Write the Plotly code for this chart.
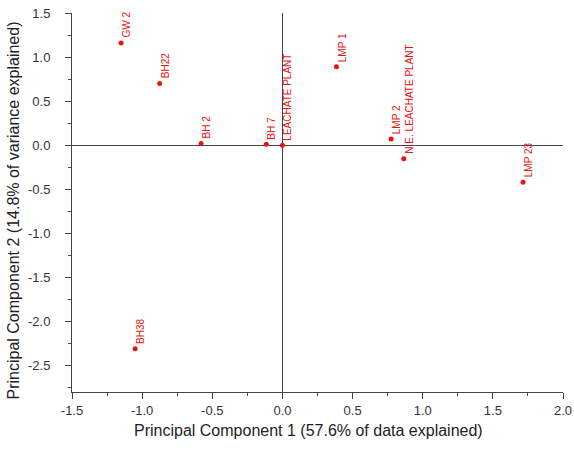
import plotly.graph_objects as go

sites = ["GW2", "BH22", "BH2", "BH7", "LEACHATE PLANT", "LMP1", "LMP 2",
         "N.E. LEACHATE PLANT", "LMP 23", "BH38"]
pc1 = [-1.15, -0.875, -0.58, -0.115, 0.0, 0.385, 0.775, 0.865, 1.715, -1.05]
pc2 = [1.16, 0.70, 0.02, 0.01, 0.0, 0.89, 0.07, -0.155, -0.42, -2.31]
label_text = ["GW 2", "BH22", "BH 2", "BH 7", "LEACHATE PLANT", "LMP 1", "LMP 2",
              "N.E. LEACHATE PLANT", "LMP 23", "BH38"]

x_ticks = [-1.5, -1.0, -0.5, 0.0, 0.5, 1.0, 1.5, 2.0]
x_ticktext = ["-1.5", "-1.0", "-0.5", "0.0", "0.5", "1.0", "1.5", "2.0"]
y_ticks = [1.5, 1.0, 0.5, 0.0, -0.5, -1.0, -1.5, -2.0, -2.5]
y_ticktext = ["1.5", "1.0", "0.5", "0.0", "-0.5", "-1.0", "-1.5", "-2.0", "-2.5"]

x_title = "Principal Component 1 (57.6% of data explained)"
y_title = "Principal Component 2 (14.8% of variance explained)"

RED = "#ee1111"
AX = "#444444"
FONT = "Liberation Sans, Arial, sans-serif"

fig = go.Figure()
fig.add_trace(go.Scatter(x=pc1, y=pc2, mode="markers", text=sites,
                         marker=dict(color=RED, size=5), showlegend=False,
                         hoverinfo="text+x+y"))

for x, y, t in zip(pc1, pc2, label_text):
    fig.add_annotation(x=x, y=y, text=t, showarrow=False, textangle=-90,
                       xanchor="left", yanchor="bottom", xshift=-2, yshift=3,
                       font=dict(color=RED, size=10, family=FONT))

axis_common = dict(showline=True, linecolor=AX, linewidth=1, mirror=False,
                   ticks="outside", ticklen=6, tickcolor=AX, tickwidth=1,
                   showgrid=False, zeroline=True, zerolinecolor=AX, zerolinewidth=1,
                   tickfont=dict(size=13, color="#333333", family=FONT),
                   automargin=False,
                   minor=dict(ticks="outside", ticklen=3, tickcolor=AX, dtick=0.25,
                              tick0=0, showgrid=False))

fig.update_xaxes(range=[-1.5, 2.0], tickvals=x_ticks, ticktext=x_ticktext,
                 **axis_common)
fig.update_yaxes(range=[-2.8, 1.5], tickvals=y_ticks, ticktext=y_ticktext,
                 ticklabelstandoff=12, **axis_common)

fig.add_annotation(xref="paper", yref="paper", x=0.5, y=0, text=x_title,
                   showarrow=False, xanchor="center", yanchor="middle",
                   xshift=-9, yshift=-38,
                   font=dict(size=16, color="#222222", family=FONT))
fig.add_annotation(xref="paper", yref="paper", x=0, y=0.5, text=y_title,
                   showarrow=False, textangle=-90, xanchor="center", yanchor="middle",
                   xshift=-59, yshift=-8,
                   font=dict(size=16, color="#222222", family=FONT))

fig.update_layout(width=574, height=450, plot_bgcolor="white", paper_bgcolor="white",
                  margin=dict(l=72, r=11, t=13, b=58), font=dict(family=FONT))

fig.write_html("out.html")
